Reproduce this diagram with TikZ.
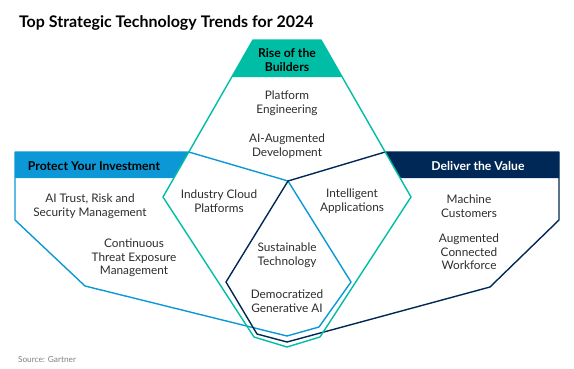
\documentclass[tikz,border=0pt]{standalone}
\usepackage{fontspec}
\setmainfont{Lato}
\usetikzlibrary{calc}
\definecolor{gtteal}{RGB}{0,190,165}
\definecolor{gtblue}{RGB}{12,152,214}
\definecolor{gtnavy}{RGB}{0,40,86}
\definecolor{gttext}{RGB}{45,45,45}
\tikzset{trend/.style={align=center,text=gttext,font=\fontsize{11.8}{13.6}\selectfont},
	headtxt/.style={align=center,font=\fontsize{12.2}{14}\selectfont\bfseries}}
\begin{document}
\begin{tikzpicture}[x=1pt,y=-1pt,line join=round,line cap=round,line width=1.4pt]
	\useasboundingbox (0,0) rectangle (574,368);
	\coordinate (tl) at (253,40); \coordinate (tr) at (321,40);
	\coordinate (vl) at (163,197); \coordinate (vr) at (411,197);
	\coordinate (c) at (288,181);
	\coordinate (bt) at ($(tl)!112/157!(vl)$);
	\coordinate (bb) at ($(tl)!138/157!(vl)$);
	\coordinate (nt) at ($(tr)!112/157!(vr)$);
	\coordinate (nb) at ($(tr)!138/157!(vr)$);
	% headers
	\fill [gtteal] (tl)--(tr)--($(tr)!37/157!(vr)$)--($(tl)!37/157!(vl)$)--cycle;
	\fill [gtblue] (15,152)--(bt)--(bb)--(15,178)--cycle;
	\fill [gtnavy] (559,152)--(nt)--(nb)--(559,178)--cycle;
	% outlines
	\draw [gtblue] (15,152)--(bt)--(c)--(351,282)--(319,327)--(287,336)--(85,286)--(15,220)--cycle;
	\draw [gtnavy] (559,152)--(nt)--(c)--(226,282)--(257,334)--(287,342)--(490,287)--(559,220)--cycle;
	\draw [gtteal] (tl)--(tr)--(vr)--(320,337)--(287,347)--(254,337)--(vl)--cycle;
	% texts
	\node [anchor=base west,font=\fontsize{16}{18}\selectfont\bfseries] (title) at (15,27) {Top Strategic Technology Trends for 2024};
	\node [headtxt] (rise) at (287,60) {Rise of the\\Builders};
	\node [headtxt] (protect) at (94,166) {Protect Your Investment};
	\node [headtxt,text=white] (deliver) at (478,166) {Deliver the Value};
	\node [trend] (platform) at (287,103) {Platform\\Engineering};
	\node [trend] (aiaug) at (287,146) {AI-Augmented\\Development};
	\node [trend] (trust) at (90,206) {AI Trust, Risk and\\Security Management};
	\node [trend] (ctem) at (134,258) {Continuous\\Threat Exposure\\Management};
	\node [trend] (cloud) at (219,201) {Industry Cloud\\Platforms};
	\node [trend] (intapp) at (352,201) {Intelligent\\Applications};
	\node [trend] (machine) at (469,206) {Machine\\Customers};
	\node [trend] (workforce) at (469,252) {Augmented\\Connected\\Workforce};
	\node [trend] (sustain) at (287,255) {Sustainable\\Technology};
	\node [trend] (genai) at (287,301) {Democratized\\Generative AI};
	\node [anchor=west,text=black!50,font=\fontsize{8.3}{10}\selectfont] (source) at (14,360) {Source: Gartner};
\end{tikzpicture}
\end{document}
